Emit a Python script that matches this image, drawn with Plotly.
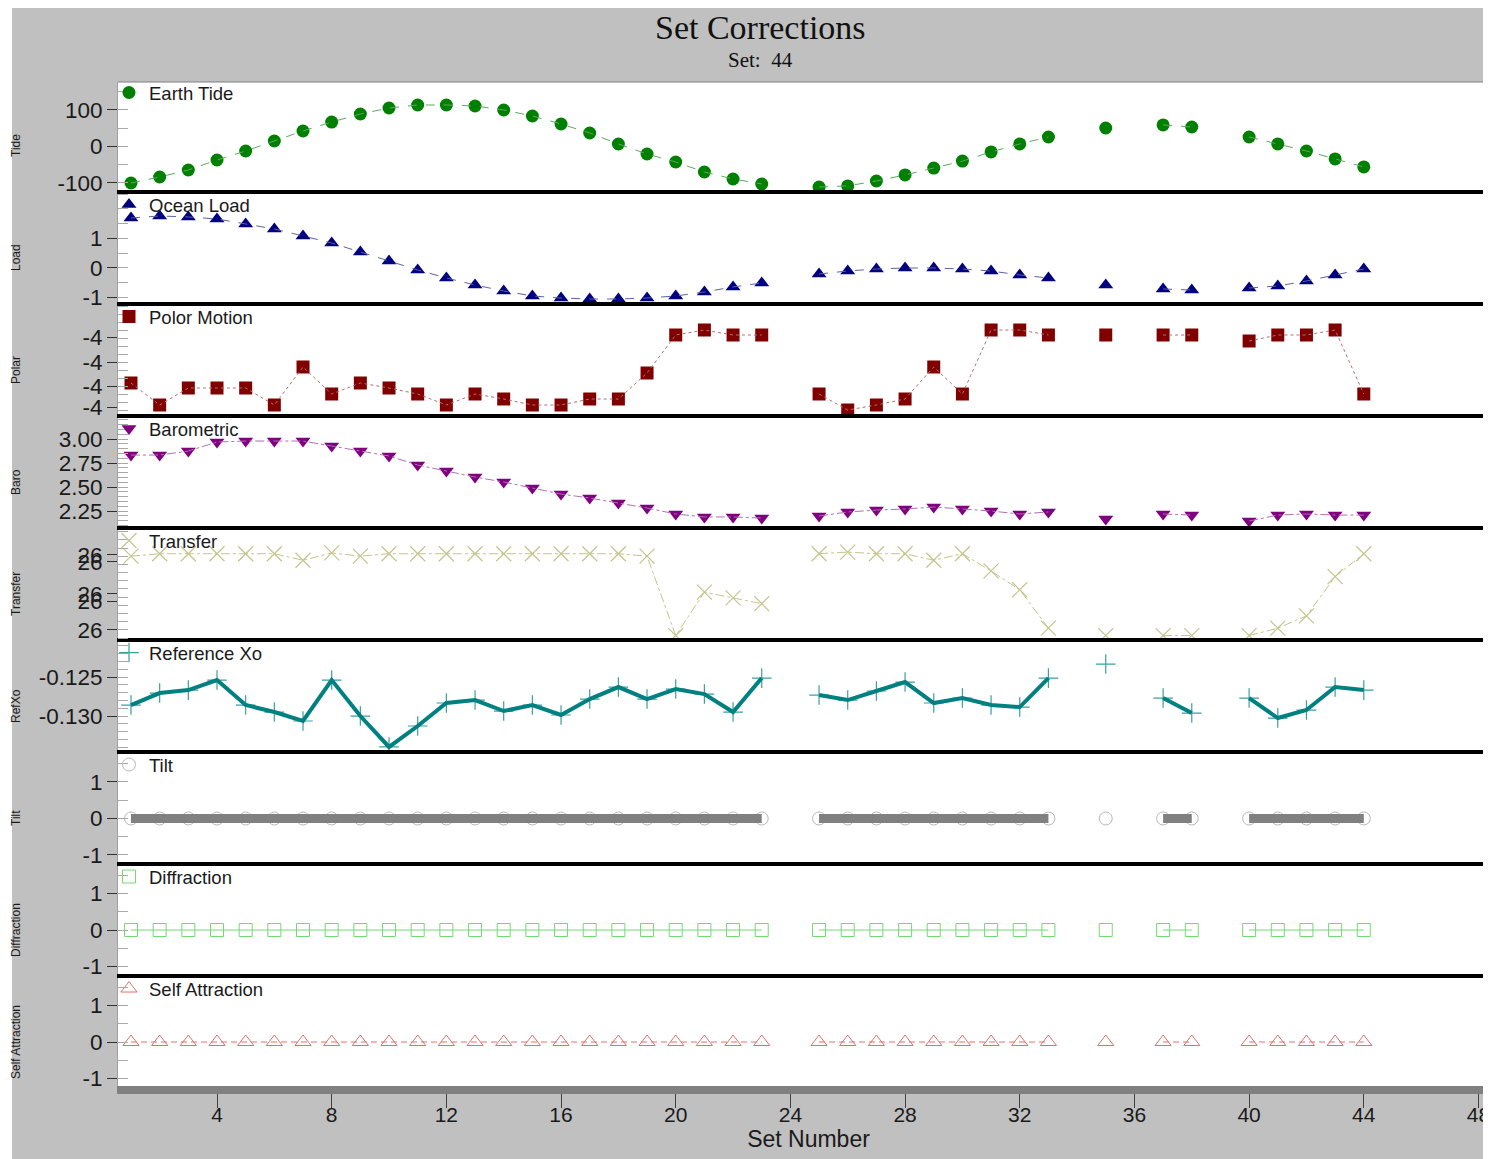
import plotly.graph_objects as go
from plotly.subplots import make_subplots

# ---------------- data ----------------
sets = [1, 2, 3, 4, 5, 6, 7, 8, 9, 10, 11, 12, 13, 14, 15, 16, 17, 18, 19, 20, 21, 22, 23,
        25, 26, 27, 28, 29, 30, 31, 32, 33,
        35,
        37, 38,
        40, 41, 42, 43, 44]

earth_tide = [-100, -83.6, -64.4, -37, -12.3, 15, 42.5, 67, 89, 105.5, 113.7, 113.7, 111, 100,
              83.6, 61.6, 37, 6.8, -20.5, -42.5, -69.9, -89, -102.7,
              -111, -108, -94.5, -78, -59, -40, -15, 7, 26,
              50.7,
              59, 53.4,
              26, 7, -12.3, -34, -56]

ocean_load = [1.695, 1.763, 1.729, 1.661, 1.492, 1.322, 1.085, 0.847, 0.542, 0.237, -0.068,
              -0.339, -0.576, -0.780, -0.949, -1.017, -1.051, -1.051, -1.017, -0.949, -0.814,
              -0.644, -0.508,
              -0.203, -0.102, -0.034, 0.0, 0.0, -0.034, -0.102, -0.237, -0.339,
              -0.576,
              -0.712, -0.746,
              -0.678, -0.610, -0.441, -0.237, -0.034]

polar_motion = [-4.212, -4.300, -4.232, -4.232, -4.232, -4.300, -4.148, -4.256, -4.212, -4.232,
                -4.256, -4.300, -4.256, -4.276, -4.300, -4.300, -4.276, -4.276, -4.172, -4.020,
                -4.000, -4.020, -4.020,
                -4.256, -4.320, -4.300, -4.276, -4.148, -4.256, -4.000, -4.000, -4.020,
                -4.020,
                -4.020, -4.020,
                -4.044, -4.020, -4.020, -4.000, -4.256]

barometric = [2.833, 2.833, 2.875, 2.969, 2.979, 2.979, 2.979, 2.927, 2.875, 2.823, 2.729,
              2.667, 2.604, 2.552, 2.490, 2.427, 2.385, 2.333, 2.281, 2.219, 2.188, 2.188, 2.177,
              2.198, 2.240, 2.260, 2.271, 2.292, 2.271, 2.250, 2.219, 2.240,
              2.167,
              2.219, 2.208,
              2.146, 2.208, 2.219, 2.208, 2.208]

transfer = [26.090, 26.093, 26.093, 26.093, 26.093, 26.093, 26.085, 26.094, 26.090, 26.093,
            26.093, 26.093, 26.093, 26.093, 26.093, 26.093, 26.093, 26.093, 26.090, 25.993,
            26.046, 26.039, 26.032,
            26.093, 26.095, 26.093, 26.093, 26.085, 26.093, 26.072, 26.049, 26.002,
            25.993,
            25.993, 25.993,
            25.993, 26.002, 26.017, 26.065, 26.093]

reference_xo = [-0.12859, -0.12705, -0.12667, -0.12538, -0.12859, -0.12949, -0.13064, -0.12538,
                -0.13000, -0.13397, -0.13128, -0.12833, -0.12795, -0.12936, -0.12859, -0.12987,
                -0.12782, -0.12628, -0.12782, -0.12654, -0.12718, -0.12949, -0.12513,
                -0.12731, -0.12795, -0.12679, -0.12564, -0.12833, -0.12769, -0.12859, -0.12885,
                -0.12513,
                -0.12333,
                -0.12769, -0.12962,
                -0.12769, -0.13026, -0.12923, -0.12628, -0.12667]

tilt = [0, 0, 0, 0, 0, 0, 0, 0, 0, 0, 0, 0, 0, 0, 0, 0, 0, 0, 0, 0, 0, 0, 0,
        0, 0, 0, 0, 0, 0, 0, 0, 0,
        0,
        0, 0,
        0, 0, 0, 0, 0]

diffraction = [0, 0, 0, 0, 0, 0, 0, 0, 0, 0, 0, 0, 0, 0, 0, 0, 0, 0, 0, 0, 0, 0, 0,
               0, 0, 0, 0, 0, 0, 0, 0, 0,
               0,
               0, 0,
               0, 0, 0, 0, 0]

self_attraction = [0, 0, 0, 0, 0, 0, 0, 0, 0, 0, 0, 0, 0, 0, 0, 0, 0, 0, 0, 0, 0, 0, 0,
                   0, 0, 0, 0, 0, 0, 0, 0, 0,
                   0,
                   0, 0,
                   0, 0, 0, 0, 0]

x_ticks = [4, 8, 12, 16, 20, 24, 28, 32, 36, 40, 44, 48]

tide_ticks = [-100, 0, 100]
tide_labels = ["-100", "0", "100"]
load_ticks = [-1, 0, 1]
load_labels = ["-1", "0", "1"]
polar_ticks = [-4.308, -4.224, -4.128, -4.028]
polar_labels = ["-4", "-4", "-4", "-4"]
baro_ticks = [2.25, 2.50, 2.75, 3.00]
baro_labels = ["2.25", "2.50", "2.75", "3.00"]
transfer_ticks = [26.000, 26.035, 26.044, 26.083, 26.0915]
transfer_labels = ["26", "26", "26", "26", "26"]
refxo_ticks = [-0.130, -0.125]
refxo_labels = ["-0.130", "-0.125"]
unit_ticks = [-1, 0, 1]
unit_labels = ["-1", "0", "1"]

title_text = "Set Corrections"
subtitle_text = "Set: \u00a044"
x_title = "Set Number"

# ---------------- layout geometry ----------------
# The page adds an 8 px body margin; "page" pixels below are positions on the screenshot.
W, H = 1491, 1159
OFF = 8
L, R, T, B = 110, 0, 74, 81
PW = W - L - R
PH = H - T - B
PANEL_H, PANEL_STEP = 108, 112
PAGE_TOP0 = 82  # page y of the first panel top


def px_x(page_px):
    return (page_px - OFF - L) / PW


def px_y(page_py):
    return (H - B - (page_py - OFF)) / PH


def with_gaps(xs, ys):
    gx, gy = [], []
    for i, (x, y) in enumerate(zip(xs, ys)):
        if i and x - xs[i - 1] > 1:
            gx.append(None)
            gy.append(None)
        gx.append(x)
        gy.append(y)
    return gx, gy


panels = [
    dict(name="Earth Tide", ytitle="Tide", y=earth_tide, color="#008000", symbol="circle",
         size=13, mlw=0, dash="dash", lw=1, lcolor="#60a860", rng=[-119.2, 176.7],
         tv=tide_ticks, tt=tide_labels, minor=dict(tick0=0, dtick=50)),
    dict(name="Ocean Load", ytitle="Load", y=ocean_load, color="#000080", symbol="triangle-up",
         size=13, mlw=0, dash="dash", lw=1, lcolor="#6060a0", rng=[-1.153, 2.508],
         tv=load_ticks, tt=load_labels, minor=dict(tick0=0, dtick=0.5)),
    dict(name="Polor Motion", ytitle="Polar", y=polar_motion, color="#800000", symbol="square",
         size=13, mlw=0, dash="dot", lw=1, lcolor="#b07070", rng=[-4.336, -3.904],
         tv=polar_ticks, tt=polar_labels, minor=dict(tick0=-4.0, dtick=0.032)),
    dict(name="Barometric", ytitle="Baro", y=barometric, color="#800080", symbol="triangle-down",
         size=13, mlw=0, dash="dashdot", lw=1, lcolor="#b070b0", rng=[2.094, 3.219],
         tv=baro_ticks, tt=baro_labels, minor=dict(tick0=2.0, dtick=0.05)),
    dict(name="Transfer", ytitle="Transfer", y=transfer, color="#c4c48c", symbol="x-thin",
         size=15, mlw=1.2, dash="dashdot", lw=1, lcolor="#c4c48c", rng=[25.990, 26.122],
         tv=transfer_ticks, tt=transfer_labels, minor=dict(tick0=26.0, dtick=0.01)),
    dict(name="Reference Xo", ytitle="RefXo", y=reference_xo, color="#3aa0a0", symbol="cross-thin",
         size=14, mlw=1.2, dash="solid", lw=4, lcolor="#008080", rng=[-0.13436, -0.1205],
         tv=refxo_ticks, tt=refxo_labels, minor=dict(tick0=-0.13, dtick=0.001)),
    dict(name="Tilt", ytitle="Tilt", y=tilt, color="#b8b8b8", symbol="circle-open",
         size=13, mlw=1, dash="solid", lw=9, lcolor="#808080", rng=[-1.192, 1.767],
         tv=unit_ticks, tt=unit_labels, minor=dict(tick0=0, dtick=0.5)),
    dict(name="Diffraction", ytitle="Diffraction", y=diffraction, color="#70dc70",
         symbol="square-open", size=13, mlw=1, dash="solid", lw=1, lcolor="#70dc70",
         rng=[-1.205, 1.753], tv=unit_ticks, tt=unit_labels, minor=dict(tick0=0, dtick=0.5)),
    dict(name="Self Attraction", ytitle="Self Attraction", y=self_attraction, color="#e07070",
         symbol="triangle-up-open", size=14, mlw=1, dash="6px,4px", lw=1, lcolor="#e07070",
         rng=[-1.205, 1.753], tv=unit_ticks, tt=unit_labels, minor=dict(tick0=0, dtick=0.5)),
]

n = len(panels)
fig = make_subplots(rows=n, cols=1, shared_xaxes=True, vertical_spacing=0.004)

SANS = "Liberation Sans, Arial, sans-serif"
SERIF = "Liberation Serif, Times New Roman, serif"
NARROW = "Liberation Sans Narrow, Arial Narrow, Liberation Sans, Arial, sans-serif"

x_range = [0.547, 48.716]

annotations = []
legends = {}
for k, p in enumerate(panels):
    row = k + 1
    top_page = PAGE_TOP0 + PANEL_STEP * k
    bot_page = top_page + PANEL_H
    leg_id = "legend" if k == 0 else f"legend{k + 1}"

    gx, gy = with_gaps(sets, p["y"])
    # markers (with legend entry)
    fig.add_trace(go.Scatter(
        x=sets, y=p["y"], mode="markers", name=p["name"], legend=leg_id,
        marker=dict(symbol=p["symbol"], size=p["size"], color=p["color"],
                    line=dict(width=p["mlw"], color=p["color"])),
        hoverinfo="x+y"), row=row, col=1)
    # connecting line
    fig.add_trace(go.Scatter(
        x=gx, y=gy, mode="lines", showlegend=False, connectgaps=False,
        line=dict(color=p["lcolor"], width=p["lw"], dash=p["dash"]),
        hoverinfo="skip"), row=row, col=1)

    yname = "yaxis" if k == 0 else f"yaxis{k + 1}"
    xname = "xaxis" if k == 0 else f"xaxis{k + 1}"
    fig.layout[yname].update(
        domain=[px_y(bot_page), px_y(top_page)], range=p["rng"], tickmode="array",
        tickvals=p["tv"], ticktext=p["tt"], showgrid=False, zeroline=False,
        showline=True, linecolor="#a0a0a0", linewidth=1, ticks="outside", ticklen=10,
        tickcolor="#303030", tickwidth=1, ticklabelstandoff=0,
        tickfont=dict(family=SANS, size=22.5, color="#1a1a1a"),
        minor=dict(ticks="inside", ticklen=10, tickcolor="#a8a8a8", tickwidth=1,
                   showgrid=False, **p["minor"]),
        fixedrange=True)
    if row < n:
        fig.layout[xname].update(showline=True, linecolor="#000000", linewidth=4,
                                 ticks="", showticklabels=False)
    fig.layout[xname].update(range=x_range, showgrid=False, zeroline=False)

    legends[leg_id] = dict(x=px_x(109), y=px_y(top_page - 8), xanchor="left", yanchor="top",
                           bgcolor="rgba(0,0,0,0)", borderwidth=0,
                           font=dict(family=SANS, size=18.5, color="#1a1a1a"))

    annotations.append(dict(text=p["ytitle"], x=px_x(16), y=px_y((top_page + bot_page) / 2 + 10),
                            xref="paper", yref="paper", showarrow=False, textangle=-90,
                            xanchor="center", yanchor="middle",
                            font=dict(family=SANS, size=12, color="#1a1a1a")))

last_x = "xaxis" if n == 1 else f"xaxis{n}"
fig.layout[last_x].update(
    showline=True, linecolor="#808080", linewidth=8, ticks="outside", ticklen=14,
    tickcolor="#404040", tickwidth=1, tickmode="array", tickvals=x_ticks,
    ticktext=[str(v) for v in x_ticks], showticklabels=True, ticklabelstandoff=-11,
    tickfont=dict(family=NARROW, size=21, color="#1a1a1a"),
    title=dict(text=x_title, font=dict(family=SANS, size=23, color="#1a1a1a"), standoff=3))

annotations.append(dict(text=title_text, x=px_x(760), y=px_y(27), xref="paper", yref="paper",
                        showarrow=False, xanchor="center", yanchor="middle",
                        font=dict(family=SERIF, size=34, color="#111111")))
annotations.append(dict(text=subtitle_text, x=px_x(760), y=px_y(60), xref="paper", yref="paper",
                        showarrow=False, xanchor="center", yanchor="middle",
                        font=dict(family=SERIF, size=21, color="#111111")))

shapes = [
    # narrow white strip at the far left of the picture
    dict(type="rect", xref="paper", yref="paper", x0=px_x(0), x1=px_x(12), y0=px_y(H + 20),
         y1=px_y(-20), fillcolor="white", line=dict(width=0), layer="below"),
    # thin border at top of first panel
    dict(type="line", xref="paper", yref="paper", x0=0, x1=1, y0=1, y1=1,
         line=dict(color="#808080", width=1)),
]

fig.update_layout(
    width=W, height=H, margin=dict(l=L, r=R, t=T, b=B, autoexpand=False),
    paper_bgcolor="#c0c0c0", plot_bgcolor="#ffffff",
    showlegend=True, annotations=annotations, shapes=shapes,
    font=dict(family=SANS, color="#1a1a1a"),
    **legends)

fig.write_html("out.html")
